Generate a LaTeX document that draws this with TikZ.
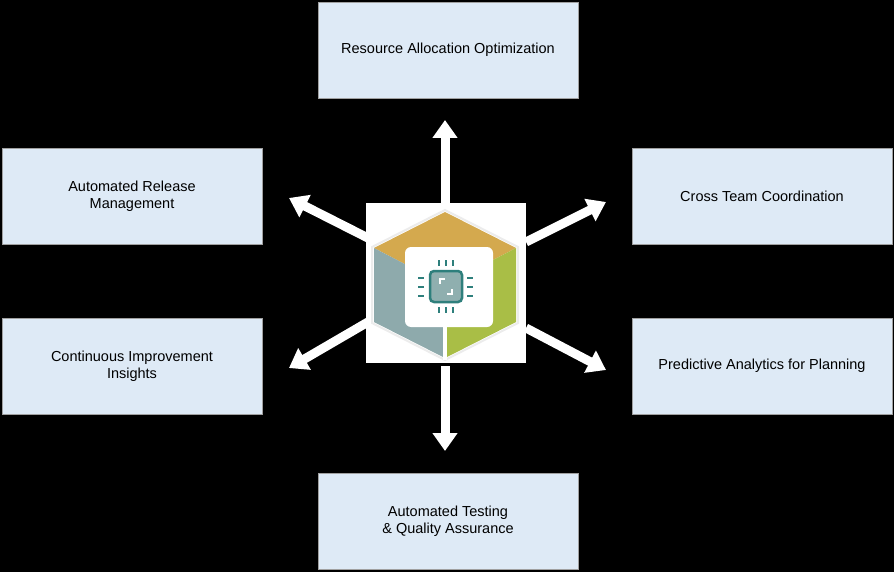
\documentclass[tikz,border=0pt]{standalone}
\usepackage{fontspec}
\setmainfont{Liberation Sans}
\usetikzlibrary{arrows.meta}
\definecolor{boxfill}{HTML}{DEEAF6}
\definecolor{boxline}{HTML}{A0A0A0}
\definecolor{gold}{HTML}{D4A94E}
\definecolor{slate}{HTML}{8EAAAC}
\definecolor{lime}{HTML}{A9BE46}
\definecolor{teal}{HTML}{2E7F7C}
\definecolor{chipfill}{HTML}{8FAFAF}
\begin{document}
\begin{tikzpicture}[x=1pt,y=-1pt,
  box/.style={draw=boxline,fill=boxfill,line width=0.8pt,minimum width=260pt,minimum height=96pt,align=center,font=\fontsize{14.5}{17}\selectfont,inner sep=0pt},
  blk/.style={draw=white,line width=9pt,-{Triangle[length=18pt,width=24pt]}},
  pin/.style={teal,line width=2pt}]
\fill[black] (0,0) rectangle (894,572);
\useasboundingbox (0,0) rectangle (894,572);
\node[box] (top) at (448,50) {Resource Allocation Optimization};
\node[box] (lt) at (132,196) {Automated Release\\Management};
\node[box] (rt) at (762,196) {Cross Team Coordination};
\node[box] (lb) at (132,366) {Continuous Improvement\\Insights};
\node[box] (rb) at (762,366) {Predictive Analytics for Planning};
\node[box] (bot) at (448,521) {Automated Testing\\\& Quality Assurance};
% center
\node[fill=white,minimum width=160pt,minimum height=160pt,inner sep=0pt] (c) at (446,283) {};
\coordinate (H) at (445,285);
\fill[gold] (445,212) -- (516,248) -- (445,285) -- (374,248) -- cycle;
\fill[slate] (374,248) -- (445,285) -- (445,358) -- (374,322) -- cycle;
\fill[lime] (516,248) -- (445,285) -- (445,358) -- (516,322) -- cycle;
\draw[white!85!gray,line width=2pt] (445,210) -- (518,247) -- (518,323) -- (445,360) -- (372,323) -- (372,247) -- cycle;
\fill[white,rounded corners=6pt] (405,247) rectangle (493,327);
\draw[white,line width=4pt] (445,320) -- (445,360);
\draw[teal,line width=2.5pt,fill=chipfill,rounded corners=4pt] (430,271) rectangle (462,302);
\draw[white,line width=1.5pt] (440,284) -- (440,279) -- (445,279) (452,289) -- (452,294) -- (447,294);
\foreach \x in {439,446,453}{\draw[pin] (\x,260) -- (\x,266); \draw[pin] (\x,307) -- (\x,313);}
\foreach \y in {278,287,296}{\draw[pin] (418,\y) -- (424,\y); \draw[pin] (467,\y) -- (473,\y);}
% arrows
\coordinate (a1s) at (445,203); \coordinate (a1e) at (445,120);
\coordinate (a2s) at (445,366); \coordinate (a2e) at (445,451);
\coordinate (a3s) at (368,238); \coordinate (a3e) at (289,198);
\coordinate (a4s) at (526,242); \coordinate (a4e) at (606,202);
\coordinate (a5s) at (368,322); \coordinate (a5e) at (289,368);
\coordinate (a6s) at (526,328); \coordinate (a6e) at (606,370);
\foreach \i in {1,...,6}{\draw[blk] (a\i s) -- (a\i e);}
\end{tikzpicture}
\end{document}
